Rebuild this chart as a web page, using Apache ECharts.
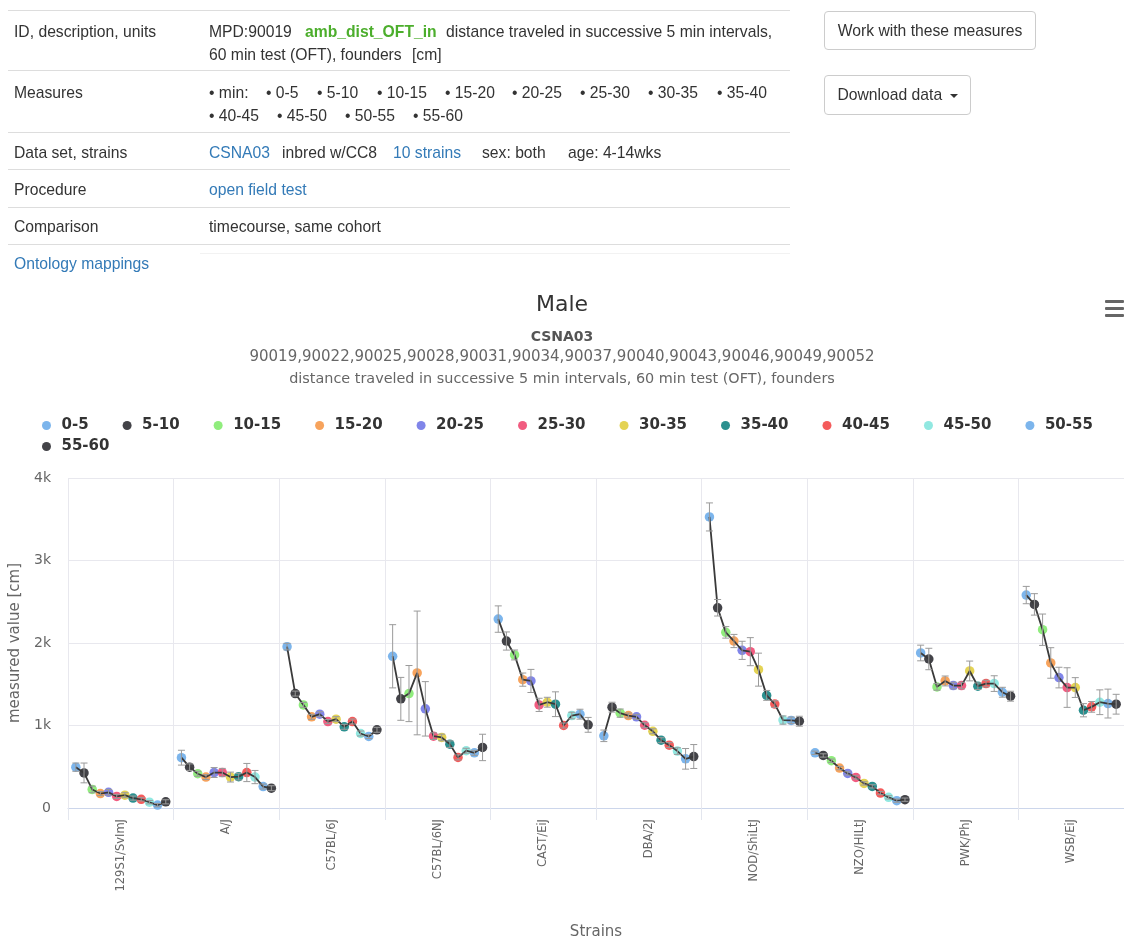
<!DOCTYPE html>
<html>
<head>
<meta charset="utf-8">
<title>amb_dist_OFT_in — Male</title>
<script src="https://cdn.jsdelivr.net/npm/echarts@6/dist/echarts.min.js"></script>
<style>
  html, body { margin: 0; padding: 0; background: #fff; }
  body { width: 1124px; height: 941px; position: relative; overflow: hidden;
         font-family: "Liberation Sans", Arial, sans-serif; font-size: 15.7px; color: #333; }
  #chart { position: absolute; left: 0; top: 0; width: 1124px; height: 941px; }
  #info { position: absolute; left: 0; top: 0; width: 1124px; height: 280px; z-index: 2; }
  .hl { position: absolute; left: 8px; width: 782px; height: 1px; background: #dddddd; }
  .t { position: absolute; line-height: 23px; white-space: nowrap; }
  .lbl { left: 14px; }
  .lnk { color: #337ab7; }
  .code { color: #4cae2c; font-weight: bold; }
  .btn { position: absolute; left: 824px; border: 1px solid #cccccc; border-radius: 4px;
         box-sizing: border-box; text-align: center; color: #333; background: #fff; }
  .caret { display: inline-block; width: 0; height: 0; margin-left: 3px; vertical-align: middle;
           border-top: 4px solid #333; border-left: 4px solid transparent; border-right: 4px solid transparent; }
</style>
</head>
<body>
<div id="chart"></div>
<div id="info">
  <div class="hl" style="top:10px"></div>
  <div class="hl" style="top:70px"></div>
  <div class="hl" style="top:132px"></div>
  <div class="hl" style="top:169px"></div>
  <div class="hl" style="top:207px"></div>
  <div class="hl" style="top:244px"></div>
  <div class="hl" style="top:253px; left:200px; width:590px; background:#f2f2f2"></div>

  <div class="t lbl" style="top:20px">ID, description, units</div>
  <div class="t" style="top:20px; left:209px">MPD:90019</div>
  <div class="t code" style="top:20px; left:305px">amb_dist_OFT_in</div>
  <div class="t" style="top:20px; left:446px">distance traveled in successive 5 min intervals,</div>
  <div class="t" style="top:43px; left:209px">60 min test (OFT), founders</div>
  <div class="t" style="top:43px; left:412px">[cm]</div>

  <div class="t lbl" style="top:81px">Measures</div>
  <div class="t" style="top:81px; left:209px">• min:</div>
  <div class="t" style="top:81px; left:266px">• 0-5</div>
  <div class="t" style="top:81px; left:317px">• 5-10</div>
  <div class="t" style="top:81px; left:377px">• 10-15</div>
  <div class="t" style="top:81px; left:445px">• 15-20</div>
  <div class="t" style="top:81px; left:512px">• 20-25</div>
  <div class="t" style="top:81px; left:580px">• 25-30</div>
  <div class="t" style="top:81px; left:648px">• 30-35</div>
  <div class="t" style="top:81px; left:717px">• 35-40</div>
  <div class="t" style="top:104px; left:209px">• 40-45</div>
  <div class="t" style="top:104px; left:277px">• 45-50</div>
  <div class="t" style="top:104px; left:345px">• 50-55</div>
  <div class="t" style="top:104px; left:413px">• 55-60</div>

  <div class="t lbl" style="top:141px">Data set, strains</div>
  <div class="t lnk" style="top:141px; left:209px">CSNA03</div>
  <div class="t" style="top:141px; left:282px">inbred w/CC8</div>
  <div class="t lnk" style="top:141px; left:393px">10 strains</div>
  <div class="t" style="top:141px; left:482px">sex: both</div>
  <div class="t" style="top:141px; left:568px">age: 4-14wks</div>

  <div class="t lbl" style="top:178px">Procedure</div>
  <div class="t lnk" style="top:178px; left:209px">open field test</div>

  <div class="t lbl" style="top:215px">Comparison</div>
  <div class="t" style="top:215px; left:209px">timecourse, same cohort</div>

  <div class="t lbl lnk" style="top:252px">Ontology mappings</div>

  <div class="btn" style="top:11px; width:212px; height:39px; line-height:37px;">Work with these measures</div>
  <div class="btn" style="top:75px; width:147px; height:40px; line-height:38px;">Download data <span class="caret"></span></div>
</div>

<script>
// Founder strains on the category axis
const strains = ['129S1/SvImJ', 'A/J', 'C57BL/6J', 'C57BL/6NJ', 'CAST/EiJ',
                 'DBA/2J', 'NOD/ShiLtJ', 'NZO/HILtJ', 'PWK/PhJ', 'WSB/EiJ'];

// Successive 5-minute intervals of the 60 min open field test
const intervals = ['0-5', '5-10', '10-15', '15-20', '20-25', '25-30',
                   '30-35', '35-40', '40-45', '45-50', '50-55', '55-60'];

const intervalColors = ['#7cb5ec', '#434348', '#90ed7d', '#f7a35c', '#8085e9', '#f15c80',
                        '#e4d354', '#2b908f', '#f45b5b', '#91e8e1', '#7cb5ec', '#434348'];

// Mean distance traveled [cm], one row per strain, one column per interval
const means = [
  [495, 425, 225, 175, 190, 140, 155, 120, 105, 70, 35, 75],            // 129S1/SvImJ
  [610, 495, 415, 375, 430, 430, 375, 380, 430, 375, 260, 240],         // A/J
  [1956, 1387, 1250, 1105, 1137, 1048, 1077, 984, 1048, 903, 867, 948], // C57BL/6J
  [1839, 1323, 1387, 1637, 1202, 871, 855, 774, 613, 694, 669, 734],    // C57BL/6NJ
  [2290, 2024, 1855, 1556, 1540, 1250, 1282, 1258, 1000, 1121, 1137, 1008], // CAST/EiJ
  [875, 1222, 1150, 1121, 1105, 1003, 930, 822, 762, 690, 596, 624],    // DBA/2J
  [3528, 2427, 2129, 2024, 1911, 1895, 1677, 1365, 1260, 1066, 1062, 1052], // NOD/ShiLtJ
  [669, 637, 573, 484, 419, 371, 298, 262, 181, 129, 89, 101],          // NZO/HILtJ
  [1879, 1806, 1468, 1540, 1484, 1484, 1661, 1476, 1508, 1508, 1403, 1355], // PWK/PhJ
  [2581, 2468, 2161, 1758, 1581, 1460, 1460, 1185, 1226, 1282, 1266, 1258]  // WSB/EiJ
];

// Error bar half-lengths [cm], same layout as means
const errs = [
  [50, 120, 40, 25, 35, 25, 30, 25, 20, 20, 20, 25],
  [90, 40, 30, 30, 60, 50, 60, 40, 110, 80, 30, 30],
  [40, 30, 30, 30, 30, 25, 30, 30, 30, 30, 25, 30],
  [383, 260, 340, 750, 330, 40, 40, 40, 30, 30, 30, 160],
  [160, 110, 60, 80, 140, 80, 60, 150, 30, 40, 60, 90],
  [70, 60, 50, 30, 30, 30, 30, 30, 30, 40, 125, 145],
  [170, 100, 70, 80, 110, 170, 200, 60, 40, 50, 40, 60],
  [20, 20, 20, 20, 20, 20, 20, 20, 20, 20, 20, 20],
  [95, 130, 40, 60, 40, 40, 120, 40, 40, 95, 60, 60],
  [105, 130, 190, 185, 125, 240, 120, 80, 65, 150, 175, 120]
];

const yTickLabels = ['0', '1k', '2k', '3k', '4k'];

const chartTitle = 'Male';
const subtitleLines = ['CSNA03',
  '90019,90022,90025,90028,90031,90034,90037,90040,90043,90046,90049,90052',
  'distance traveled in successive 5 min intervals, 60 min test (OFT), founders'];

// Points of one strain are spread across its category band
const STEP = 0.0774;
const xPos = (s, k) => s + (k - (intervals.length - 1) / 2) * STEP;

const FONT = '"DejaVu Sans", Verdana, sans-serif';
const chart = echarts.init(document.getElementById('chart'), null, { renderer: 'canvas' });

const series = [];

// one marker series per interval
intervals.forEach((name, k) => {
  series.push({
    name: name,
    type: 'scatter',
    xAxisIndex: 1,
    symbol: 'circle',
    symbolSize: 9.5,
    itemStyle: { color: intervalColors[k], opacity: 1 },
    z: 2,
    data: strains.map((_, s) => [xPos(s, k), means[s][k]])
  });
});

// dark line joining the intervals of each strain
strains.forEach((strain, s) => {
  series.push({
    name: strain + ' trend',
    type: 'line',
    xAxisIndex: 1,
    symbol: 'none',
    silent: true,
    z: 3,
    lineStyle: { color: '#3a3a3a', width: 1.8 },
    data: intervals.map((_, k) => [xPos(s, k), means[s][k]])
  });
});

// error bars with caps
const errData = [];
strains.forEach((_, s) => intervals.forEach((_, k) => {
  errData.push([xPos(s, k), means[s][k] - errs[s][k], means[s][k] + errs[s][k]]);
}));
series.push({
  name: 'error',
  type: 'custom',
  xAxisIndex: 1,
  z: 4,
  silent: true,
  encode: { x: 0, y: [1, 2] },
  data: errData,
  renderItem: function (params, api) {
    const x = api.value(0);
    const lo = api.coord([x, api.value(1)]);
    const hi = api.coord([x, api.value(2)]);
    const cap = 3.5;
    const st = { stroke: '#9a9a9a', lineWidth: 1 };
    return {
      type: 'group',
      children: [
        { type: 'line', shape: { x1: lo[0], y1: lo[1], x2: hi[0], y2: hi[1] }, style: st },
        { type: 'line', shape: { x1: lo[0] - cap, y1: lo[1], x2: lo[0] + cap, y2: lo[1] }, style: st },
        { type: 'line', shape: { x1: hi[0] - cap, y1: hi[1], x2: hi[0] + cap, y2: hi[1] }, style: st }
      ]
    };
  }
});

const legendText = { fontFamily: FONT, fontSize: 15, fontWeight: 'bold', color: '#333333' };

chart.setOption({
  backgroundColor: '#ffffff',
  animation: false,
  title: [
    { text: chartTitle, left: 'center', top: 289,
      textStyle: { fontFamily: FONT, fontSize: 22, fontWeight: 'normal', color: '#333333' } },
    { text: subtitleLines[0], left: 'center', top: 325,
      textStyle: { fontFamily: FONT, fontSize: 14, fontWeight: 'bold', color: '#555555' } },
    { text: subtitleLines[1], left: 'center', top: 345,
      textStyle: { fontFamily: FONT, fontSize: 15, fontWeight: 'normal', color: '#666666' } },
    { text: subtitleLines[2], left: 'center', top: 367,
      textStyle: { fontFamily: FONT, fontSize: 14.4, fontWeight: 'normal', color: '#666666' } }
  ],
  legend: [
    { data: intervals.slice(0, 11), left: 42, top: 418, icon: 'circle',
      itemWidth: 20, itemHeight: 9, itemGap: 34, textStyle: legendText, padding: 0 },
    { data: intervals.slice(11), left: 42, top: 439, icon: 'circle',
      itemWidth: 20, itemHeight: 9, itemGap: 34, textStyle: legendText, padding: 0 }
  ],
  grid: { left: 68, right: -3, top: 478, bottom: 130, containLabel: false },
  xAxis: [
    {
      type: 'category',
      data: strains,
      boundaryGap: true,
      name: 'Strains',
      nameLocation: 'middle',
      nameGap: 117,
      nameTextStyle: { fontFamily: FONT, fontSize: 15, color: '#666666' },
      axisLine: { lineStyle: { color: '#ccd6eb' } },
      axisTick: { show: true, length: 12, alignWithLabel: false, lineStyle: { color: '#e3e6ee' } },
      axisLabel: { rotate: 90, margin: 11, fontFamily: FONT, fontSize: 11.5, color: '#666666' },
      splitLine: { show: true, lineStyle: { color: '#e8e8ee', width: 1 } }
    },
    { type: 'value', min: -0.5, max: strains.length - 0.5, show: false }
  ],
  yAxis: {
    type: 'value',
    min: 0, max: 4000, interval: 1000,
    name: 'measured value [cm]',
    nameLocation: 'middle',
    nameGap: 28,
    nameTextStyle: { fontFamily: FONT, fontSize: 15, color: '#666666' },
    axisLine: { show: false },
    axisTick: { show: false },
    axisLabel: { margin: 17, fontFamily: FONT, fontSize: 14, color: '#666666',
                 formatter: v => yTickLabels[Math.round(v / 1000)] },
    splitLine: { lineStyle: { color: '#e8e8ee', width: 1 } }
  },
  graphic: [
    { type: 'group', left: 1105, top: 300, children: [
      { type: 'rect', shape: { x: 0, y: 0, width: 19, height: 3, r: 1 }, style: { fill: '#666666' } },
      { type: 'rect', shape: { x: 0, y: 7, width: 19, height: 3, r: 1 }, style: { fill: '#666666' } },
      { type: 'rect', shape: { x: 0, y: 14, width: 19, height: 3, r: 1 }, style: { fill: '#666666' } }
    ] }
  ],
  series: series
});
</script>
</body>
</html>
